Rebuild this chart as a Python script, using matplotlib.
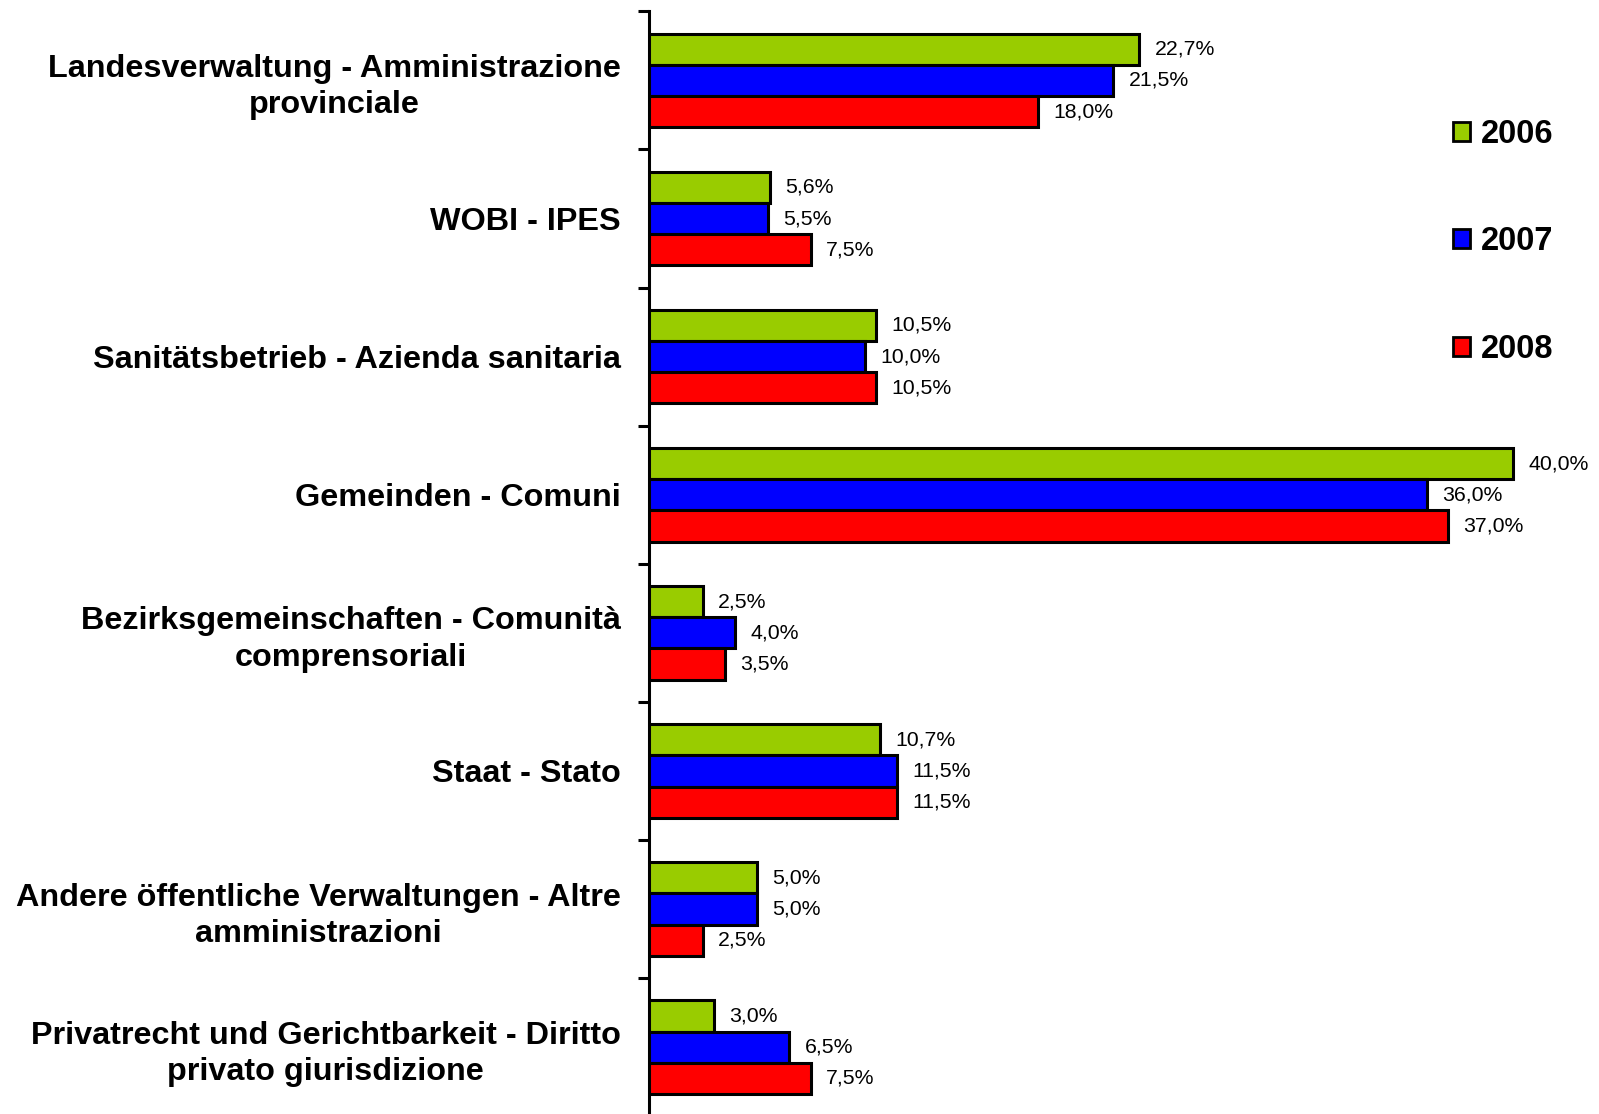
import matplotlib
matplotlib.use("Agg")
import matplotlib.pyplot as plt
from matplotlib.patches import Patch
import numpy as np

plt.rcParams['font.family'] = ['Liberation Sans', 'DejaVu Sans']

categories = [
    "Landesverwaltung - Amministrazione\nprovinciale",
    "WOBI - IPES",
    "Sanitätsbetrieb - Azienda sanitaria",
    "Gemeinden - Comuni",
    "Bezirksgemeinschaften - Comunità\ncomprensoriali",
    "Staat - Stato",
    "Andere öffentliche Verwaltungen - Altre\namministrazioni",
    "Privatrecht und Gerichtbarkeit - Diritto\nprivato giurisdizione",
]
years = ["2006", "2007", "2008"]
v2006 = [22.7, 5.6, 10.5, 40.0, 2.5, 10.7, 5.0, 3.0]
v2007 = [21.5, 5.5, 10.0, 36.0, 4.0, 11.5, 5.0, 6.5]
v2008 = [18.0, 7.5, 10.5, 37.0, 3.5, 11.5, 2.5, 7.5]
colors = ["#99CC00", "#0000FF", "#FF0000"]

W, H, DPI = 1599, 1114, 100
fig = plt.figure(figsize=(W / DPI, H / DPI), dpi=DPI)
px_per_unit = 21.6
x0 = 649.0
xmax = 43
top_px = 11.4
pitch = 138.1
bot_px = top_px + 8 * pitch
ax = fig.add_axes([x0 / W, 1 - bot_px / H, xmax * px_per_unit / W, (bot_px - top_px) / H])

y = np.arange(len(categories))
bh = 0.226
series = [v2006, v2007, v2008]
for k, (vals, c) in enumerate(zip(series, colors)):
    pos = y + (k - 1) * bh
    ax.barh(pos, vals, height=bh, color=c, edgecolor="black", linewidth=2.2, zorder=3)
    for p, v in zip(pos, vals):
        ax.annotate(f"{v:.1f}%".replace(".", ","), xy=(v, p), xytext=(11, 0),
                    textcoords="offset points", va="center", ha="left", fontsize=15.3)

ax.set_xlim(0, xmax)
ax.set_ylim(len(categories) - 0.5, -0.5)

for s in ["top", "right", "bottom"]:
    ax.spines[s].set_visible(False)
ax.spines["left"].set_linewidth(2.2)
ax.set_xticks([])

ax.set_yticks(np.arange(-0.5, len(categories) + 0.5, 1.0))
ax.set_yticklabels([])
ax.tick_params(axis="y", which="major", direction="out", length=8, width=2.2)
ax.set_yticks(y, minor=True)
ax.set_yticklabels(categories, minor=True, fontsize=23.3, fontweight="bold",
                   ha="right", multialignment="center", linespacing=1.27)
ax.tick_params(axis="y", which="minor", length=0, pad=20.5)

handles = [Patch(facecolor=c, edgecolor="black", linewidth=2.0) for c in colors]
fig.legend(handles, years, loc="upper left", bbox_to_anchor=(1453 / W, 1 - 119 / H),
           frameon=False, prop={"size": 23.5, "weight": "bold"},
           handlelength=0.52, handleheight=0.52, handletextpad=0.33,
           labelspacing=2.34, borderpad=0, borderaxespad=0)

fig.savefig("out.png", dpi=DPI)
